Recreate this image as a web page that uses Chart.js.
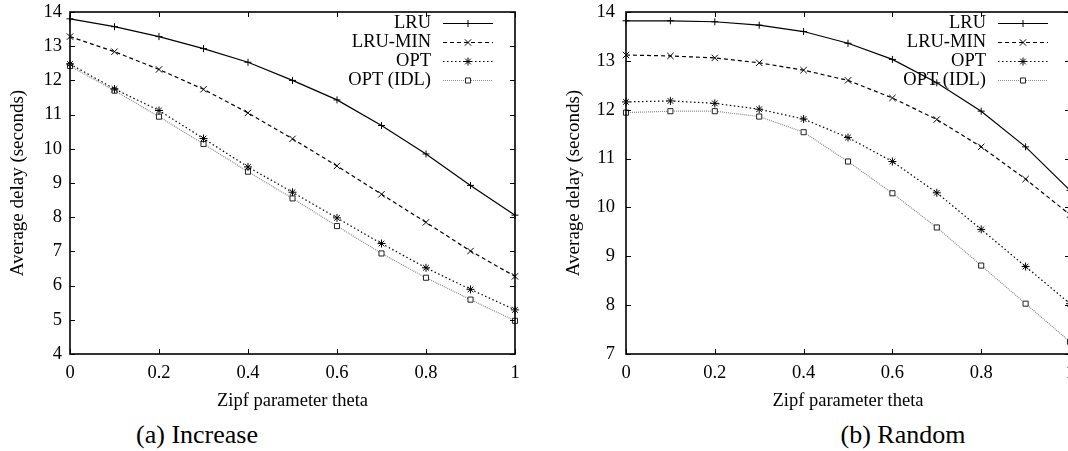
<!DOCTYPE html>
<html>
<head>
<meta charset="utf-8">
<script src="https://cdn.jsdelivr.net/npm/chart.js@4.4.1/dist/chart.umd.min.js"></script>
<style>
  html, body { margin: 0; padding: 0; width: 1068px; height: 451px; overflow: hidden; background: #fff; }
  canvas { position: absolute; top: 0; }
  .caption { position: absolute; font-family: 'Liberation Serif', 'Times New Roman', serif; font-size: 26px; color: #000; white-space: nowrap; transform: translate(-50%, -50%); }
</style>
</head>
<body>
<canvas id="increaseChart" width="540" height="420" style="left:0px"></canvas>
<canvas id="randomChart" width="540" height="420" style="left:556px"></canvas>
<div class="caption" style="left:197px; top:435px">(a) Increase</div>
<div class="caption" style="left:903px; top:435px">(b) Random</div>
<script>
// Zipf parameter theta on the x axis
const theta = [0, 0.1, 0.2, 0.3, 0.4, 0.5, 0.6, 0.7, 0.8, 0.9, 1.0];
const thetaTicks = [0, 0.2, 0.4, 0.6, 0.8, 1];

// (a) Increase, average delay in seconds
const lruInc    = [13.80, 13.57, 13.28, 12.93, 12.53, 12.00, 11.43, 10.68, 9.85, 8.93, 8.06];
const lruMinInc = [13.28, 12.84, 12.32, 11.74, 11.05, 10.29, 9.50, 8.67, 7.85, 7.01, 6.27];
const optInc    = [12.48, 11.75, 11.12, 10.30, 9.47, 8.73, 7.98, 7.23, 6.52, 5.89, 5.29];
const optIdlInc = [12.42, 11.70, 10.94, 10.14, 9.33, 8.55, 7.74, 6.94, 6.23, 5.59, 4.97];
const incTicks  = [4, 5, 6, 7, 8, 9, 10, 11, 12, 13, 14];

// (b) Random, average delay in seconds
const lruRnd    = [13.82, 13.82, 13.80, 13.73, 13.60, 13.36, 13.03, 12.55, 11.97, 11.24, 10.35];
const lruMinRnd = [13.12, 13.10, 13.06, 12.96, 12.81, 12.60, 12.24, 11.80, 11.24, 10.58, 9.85];
const optRnd    = [12.16, 12.18, 12.13, 12.01, 11.81, 11.43, 10.94, 10.30, 9.55, 8.79, 8.03];
const optIdlRnd = [11.94, 11.97, 11.97, 11.86, 11.54, 10.94, 10.29, 9.59, 8.81, 8.03, 7.25];
const rndTicks  = [7, 8, 9, 10, 11, 12, 13, 14];

const seriesNames = ['LRU', 'LRU-MIN', 'OPT', 'OPT (IDL)'];

const serif = "'Liberation Serif', 'Times New Roman', serif";
Chart.defaults.font.family = serif;
Chart.defaults.font.size = 18.5;
Chart.defaults.color = '#000';

// gnuplot-ish line types
const styles = [
    { borderColor: '#000', borderDash: [], pointStyle: 'cross', pointRadius: 3.5, pointBackgroundColor: '#000' },
    { borderColor: '#000', borderDash: [4, 3], pointStyle: 'crossRot', pointRadius: 4.5, pointBackgroundColor: '#000' },
    { borderColor: '#000', borderDash: [1.5, 2.5], pointStyle: 'star', pointRadius: 4, pointBackgroundColor: '#000' },
    { borderColor: '#8a8a8a', borderDash: [1, 1], pointStyle: 'rect', pointRadius: 3.6, pointBackgroundColor: '#fff', pointBorderColor: '#222' }
];

function toPoints(values) {
    return values.map((v, i) => ({ x: theta[i], y: v }));
}

// frame round the plot with inward ticks on all four sides
const frameTicks = {
    id: 'frameTicks',
    afterDatasetsDraw(chart) {
        const { ctx, chartArea: a, scales: { x, y } } = chart;
        ctx.save();
        ctx.strokeStyle = '#000';
        ctx.lineWidth = 1;
        ctx.setLineDash([]);
        ctx.beginPath();
        x.ticks.forEach(t => {
            const px = Math.round(x.getPixelForValue(t.value)) + 0.5;
            ctx.moveTo(px, a.bottom); ctx.lineTo(px, a.bottom - 5);
            ctx.moveTo(px, a.top); ctx.lineTo(px, a.top + 5);
        });
        y.ticks.forEach(t => {
            const py = Math.round(y.getPixelForValue(t.value)) + 0.5;
            ctx.moveTo(a.left, py); ctx.lineTo(a.left + 5, py);
            ctx.moveTo(a.right, py); ctx.lineTo(a.right - 5, py);
        });
        ctx.stroke();
        ctx.lineWidth = 1.6;
        ctx.strokeRect(a.left, a.top, a.right - a.left, a.bottom - a.top);
        ctx.restore();
    }
};

// key in the top right corner: label, then line sample with its marker
const keyBox = {
    id: 'keyBox',
    afterDatasetsDraw(chart) {
        const { ctx, chartArea: a } = chart;
        ctx.save();
        chart.data.datasets.forEach((ds, i) => {
            const yy = a.top + 11.5 + 19 * i;
            ctx.font = '18.5px ' + serif;
            ctx.fillStyle = '#000';
            ctx.textAlign = 'right';
            ctx.textBaseline = 'middle';
            ctx.fillText(ds.label, a.right - 84, yy);
            ctx.strokeStyle = ds.borderColor;
            ctx.lineWidth = ds.borderWidth;
            ctx.setLineDash(ds.borderDash);
            ctx.beginPath();
            ctx.moveTo(a.right - 72, yy);
            ctx.lineTo(a.right - 22, yy);
            ctx.stroke();
            ctx.setLineDash([]);
            ctx.strokeStyle = ds.pointBorderColor || ds.borderColor;
            ctx.fillStyle = ds.pointBackgroundColor;
            ctx.lineWidth = 1;
            Chart.helpers.drawPoint(ctx, {
                pointStyle: ds.pointStyle, radius: ds.pointRadius, borderWidth: 1, rotation: 0
            }, a.right - 47, yy);
        });
        ctx.restore();
    }
};

function makeChart(id, series, yTicks, labelPad, padRight) {
    const ctx = document.getElementById(id);
    return new Chart(ctx, {
        type: 'line',
        data: {
            datasets: series.map((values, i) => Object.assign({
                label: seriesNames[i],
                data: toPoints(values),
                borderWidth: 1.2,
                pointBorderWidth: 1,
                tension: 0,
                clip: false
            }, styles[i], { pointBorderColor: styles[i].pointBorderColor || '#000' }))
        },
        options: {
            responsive: false,
            animation: false,
            devicePixelRatio: 1,
            layout: { autoPadding: false, padding: { top: 12, right: padRight, left: 0, bottom: 0 } },
            plugins: {
                legend: { display: false },
                tooltip: { enabled: false }
            },
            scales: {
                x: {
                    type: 'linear',
                    min: 0,
                    max: 1,
                    afterBuildTicks: (scale) => { scale.ticks = thetaTicks.map(v => ({ value: v })); },
                    afterFit: (scale) => {
                        scale.height = 66;
                        scale.paddingLeft = 0;
                        scale.paddingRight = 0;
                    },
                    grid: { display: false, drawTicks: false },
                    border: { display: false },
                    ticks: {
                        padding: 8,
                        maxRotation: 0,
                        autoSkip: false,
                        callback: (v) => String(Math.round(v * 10) / 10)
                    },
                    title: { display: true, text: 'Zipf parameter theta', padding: { top: 0, bottom: 8 } }
                },
                y: {
                    type: 'linear',
                    min: yTicks[0],
                    max: yTicks[yTicks.length - 1],
                    afterBuildTicks: (scale) => { scale.ticks = yTicks.map(v => ({ value: v })); },
                    afterFit: (scale) => {
                        scale.width = 70;
                        scale.paddingTop = 0;
                        scale.paddingBottom = 0;
                    },
                    grid: { display: false, drawTicks: false },
                    border: { display: false },
                    ticks: { padding: labelPad, autoSkip: false },
                    title: {
                        display: true,
                        text: 'Average delay (seconds)',
                        font: { size: 19 },
                        padding: { top: 7, bottom: 0 }
                    }
                }
            }
        },
        plugins: [frameTicks, keyBox]
    });
}

makeChart('increaseChart', [lruInc, lruMinInc, optInc, optIdlInc], incTicks, 8, 25);
makeChart('randomChart', [lruRnd, lruMinRnd, optRnd, optIdlRnd], rndTicks, 11, 26);
</script>
</body>
</html>
